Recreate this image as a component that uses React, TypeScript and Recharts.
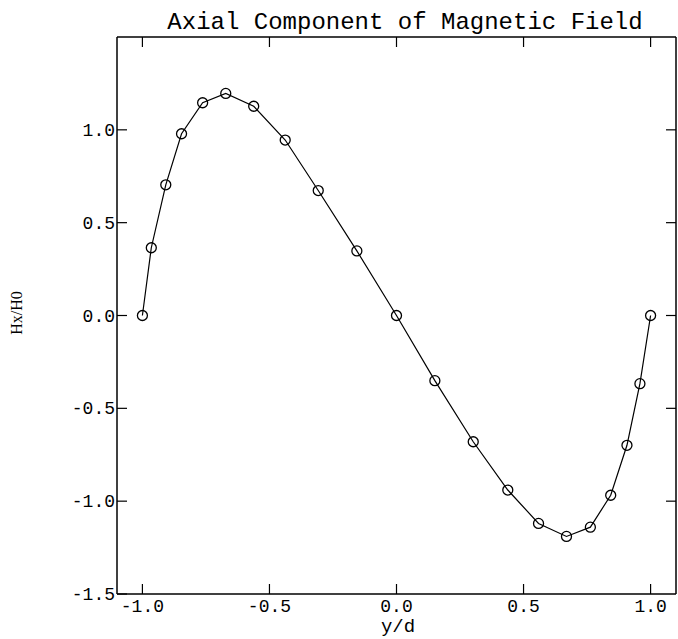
import React from 'react';
import { ComposedChart, Line, XAxis, YAxis, Label } from 'recharts';

const yOverD = [-1.0, -0.965, -0.908, -0.846, -0.763, -0.672, -0.562, -0.438, -0.308, -0.156, 0.0,
  0.151, 0.302, 0.438, 0.559, 0.669, 0.763, 0.843, 0.907, 0.958, 1.0];
const hxOverH0 = [0.0, 0.365, 0.704, 0.979, 1.146, 1.196, 1.127, 0.945, 0.673, 0.348, 0.0,
  -0.351, -0.68, -0.94, -1.12, -1.19, -1.14, -0.968, -0.699, -0.367, 0.0];
const xTicks = [-1.0, -0.5, 0.0, 0.5, 1.0];
const yTicks = [-1.5, -1.0, -0.5, 0.0, 0.5, 1.0];
const yTicksRight = [-1.0, -0.5, 0.0, 0.5, 1.0];
const title = 'Axial Component of Magnetic Field';
const xLabel = 'y/d';
const yLabel = 'Hx/H0';

const data = yOverD.map((x, i) => ({ x, h: hxOverH0[i] }));

const mono = '"Liberation Mono", "Courier New", monospace';
const fmt = (v: number) => v.toFixed(1);
const TL = 10;

const BottomTick = (p: any) => (
  <g>
    <line x1={p.x} x2={p.x} y1={p.y} y2={p.y - TL} stroke="#000" strokeWidth={1.2} />
    <text x={p.x} y={p.y + 18} textAnchor="middle" fontFamily={mono} fontSize={18} fill="#000">
      {fmt(p.payload.value)}
    </text>
  </g>
);
const TopTick = (p: any) => (
  <line x1={p.x} x2={p.x} y1={p.y} y2={p.y + TL} stroke="#000" strokeWidth={1.2} />
);
const LeftTick = (p: any) => (
  <g>
    <line x1={p.x} x2={p.x + TL} y1={p.y} y2={p.y} stroke="#000" strokeWidth={1.2} />
    <text x={p.x - 2} y={p.y + 6} textAnchor="end" fontFamily={mono} fontSize={18} fill="#000">
      {fmt(p.payload.value)}
    </text>
  </g>
);
const RightTick = (p: any) => (
  <line x1={p.x} x2={p.x - TL} y1={p.y} y2={p.y} stroke="#000" strokeWidth={1.2} />
);

export default function App() {
  return (
    <div style={{ position: 'absolute', left: 0, top: 0, width: 678, height: 639, background: '#fff' }}>
      <ComposedChart width={678} height={639} data={data} margin={{ top: 36, right: 1, bottom: 0, left: 0 }}>
        <XAxis
          xAxisId={0}
          dataKey="x"
          type="number"
          domain={[-1.1, 1.1]}
          ticks={xTicks}
          height={45}
          tickSize={0}
          tickMargin={0}
          tickLine={false}
          tick={BottomTick}
          axisLine={{ stroke: '#000', strokeWidth: 1.5 }}
        >
          <Label
            content={() => (
              <text x={398} y={632} textAnchor="middle" fontFamily={mono} fontSize={19} fill="#000">
                {xLabel}
              </text>
            )}
          />
        </XAxis>
        <XAxis
          xAxisId="top"
          orientation="top"
          type="number"
          dataKey="x"
          domain={[-1.1, 1.1]}
          ticks={xTicks}
          height={1}
          tickSize={0}
          tickMargin={0}
          tickLine={false}
          tick={TopTick}
          axisLine={{ stroke: '#000', strokeWidth: 1.5 }}
        >
          <Label
            content={() => (
              <text x={405} y={29} textAnchor="middle" fontFamily={mono} fontSize={24} fill="#000">
                {title}
              </text>
            )}
          />
        </XAxis>
        <YAxis
          yAxisId={0}
          type="number"
          domain={[-1.5, 1.5]}
          ticks={yTicks}
          width={117}
          tickSize={0}
          tickMargin={0}
          tickLine={false}
          tick={LeftTick}
          axisLine={{ stroke: '#000', strokeWidth: 1.5 }}
        >
          <Label
            content={() => (
              <text
                x={22}
                y={313}
                transform="rotate(-90, 22, 313)"
                textAnchor="middle"
                fontFamily='"Liberation Serif", serif'
                fontSize={16}
                fill="#000"
              >
                {yLabel}
              </text>
            )}
          />
        </YAxis>
        <YAxis
          yAxisId="right"
          orientation="right"
          type="number"
          domain={[-1.5, 1.5]}
          ticks={yTicksRight}
          width={1}
          tickSize={0}
          tickMargin={0}
          tickLine={false}
          tick={RightTick}
          axisLine={{ stroke: '#000', strokeWidth: 1.5 }}
        />
        <Line
          xAxisId="top"
          yAxisId="right"
          type="linear"
          dataKey="h"
          stroke="none"
          dot={false}
          activeDot={false}
          legendType="none"
          isAnimationActive={false}
        />
        <Line
          xAxisId={0}
          yAxisId={0}
          type="linear"
          dataKey="h"
          stroke="#000"
          strokeWidth={1.2}
          dot={{ r: 5, stroke: '#000', strokeWidth: 1.3, fill: 'none' }}
          isAnimationActive={false}
        />
      </ComposedChart>
    </div>
  );
}
